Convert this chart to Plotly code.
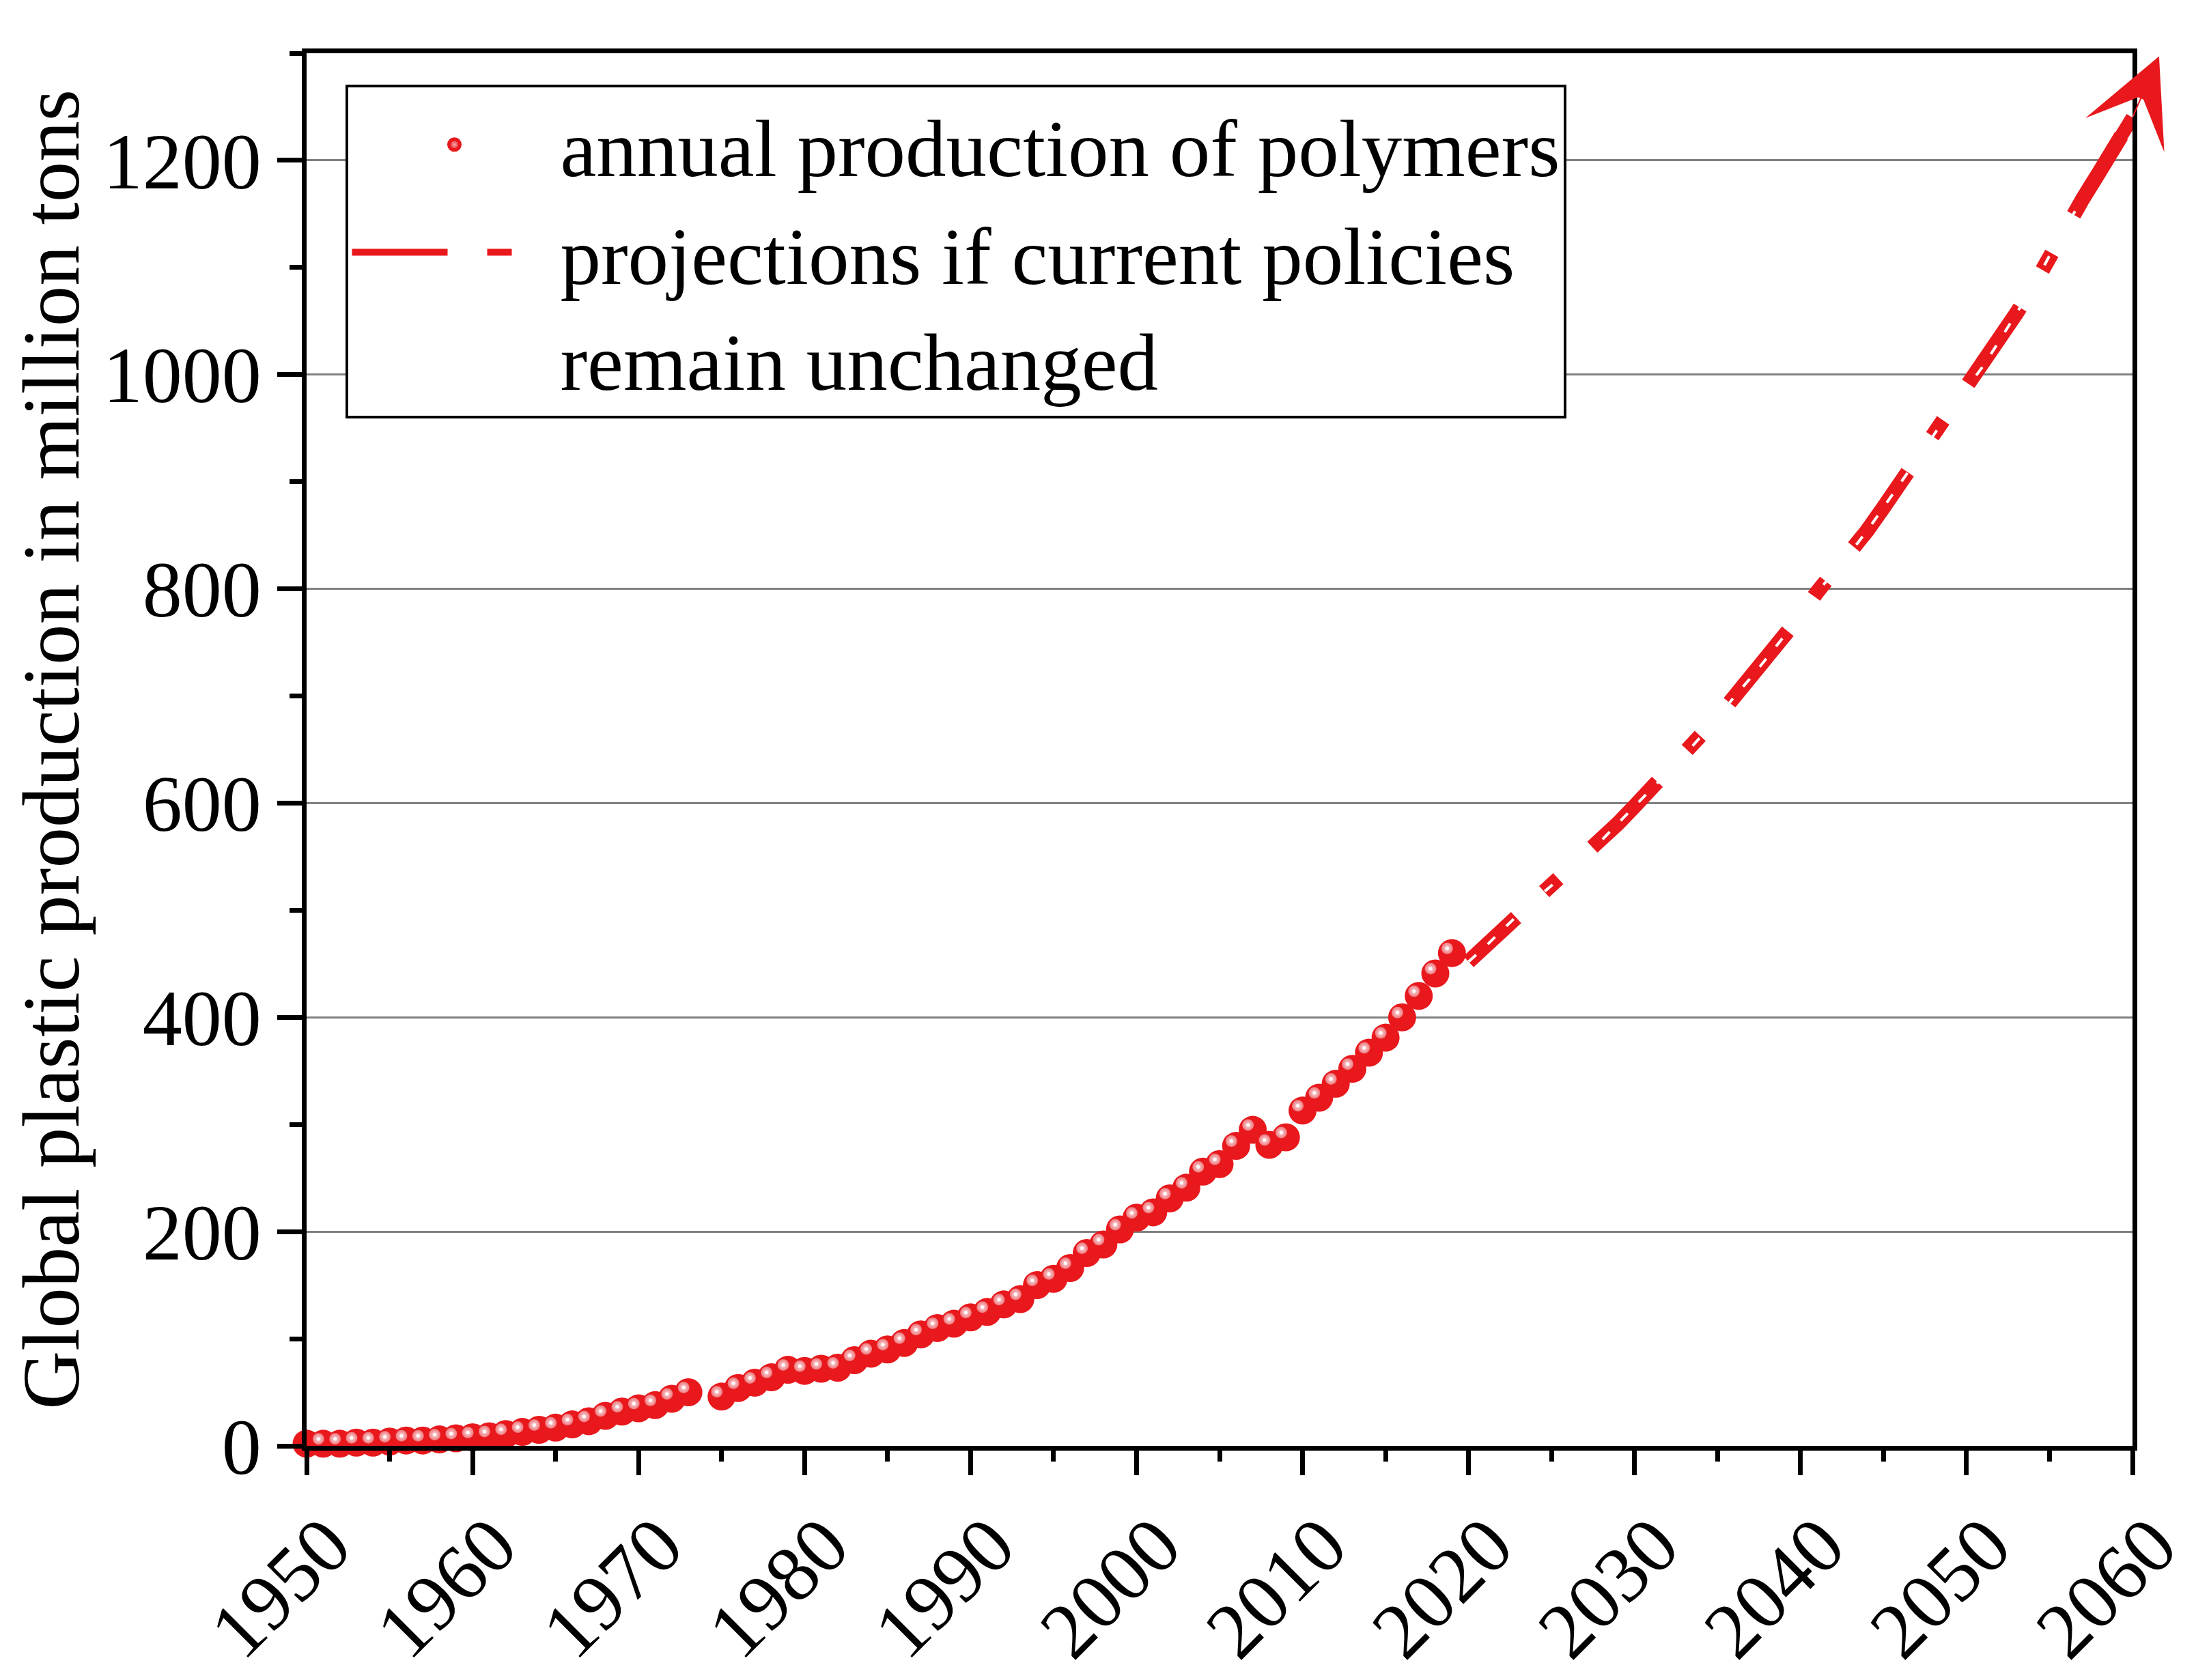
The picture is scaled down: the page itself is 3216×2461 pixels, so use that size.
import plotly.graph_objects as go

# annual production of polymers, million tons (no point for 1974)
years = list(range(1950, 1974)) + list(range(1975, 2020))
production = [2, 2, 2, 3, 3, 4, 5, 5, 6, 7,
              8, 9, 11, 13, 15, 17, 20, 23, 28, 32,
              35, 38, 44, 50,
              46, 54, 59, 64, 71,
              70, 72, 73, 80, 86, 90, 96, 104, 110, 114,
              120, 125, 132, 137, 150, 156, 166, 180, 188, 202,
              213, 218, 231, 241, 256, 263, 280, 295, 281, 288,
              313, 325, 338, 352, 367, 381, 400, 420, 441, 460]

# projection if current policies remain unchanged
proj_years = list(range(2020, 2061))
proj_values = [452, 466, 481, 496, 510, 523, 538, 551, 565, 581,
               597, 613, 629, 645, 662, 680, 699, 717, 736, 755,
               775, 797, 815, 834, 854, 876, 898, 920, 943, 966,
               987, 1008, 1032, 1057, 1082, 1111, 1139, 1164, 1189, 1214,
               1240]

RED = "rgb(232,24,28)"
FONT = "Liberation Serif"

# dash-dot pattern, first dash shorter so the phase matches the original
pattern = "95px,56px,28px,68px," + ",".join(["135px,64px,28px,65px"] * 6)

# pixel offset of the ball highlight (up-left of ball centre)
hx = 7 / (2697 / 110)
hy = 7 / (2040 / 1300)

fig = go.Figure()

# legend entries (plotly caps legend symbol sizes, so these carry the look)
fig.add_trace(go.Scatter(
    x=[None], y=[None], mode="markers",
    name="annual production of polymers",
    marker=dict(size=41, color=RED, line=dict(width=5, color=RED),
                gradient=dict(type="radial", color="rgb(246,170,174)")),
))
fig.add_trace(go.Scatter(
    x=[None], y=[None], mode="lines",
    name="projections if current policies<br>remain unchanged",
    line=dict(color=RED, width=24, dash="140px,58px,36px,300px"),
))

# data
fig.add_trace(go.Scatter(
    x=years, y=production, mode="markers", showlegend=False,
    marker=dict(size=41, color=RED, line=dict(width=0)),
    cliponaxis=False,
))
fig.add_trace(go.Scatter(
    x=proj_years, y=proj_values, mode="lines", showlegend=False,
    line=dict(color=RED, width=22, dash=pattern),
))
fig.add_trace(go.Scatter(
    x=proj_years, y=proj_values, mode="lines", showlegend=False,
    line=dict(color="white", width=4, dash="15px,23px"),
    hoverinfo="skip",
))
# solid arrow shaft over the last years
fig.add_trace(go.Scatter(
    x=proj_years[-4:], y=proj_values[-4:], mode="lines", showlegend=False,
    line=dict(color=RED, width=20), hoverinfo="skip",
))
# highlights on the balls
fig.add_trace(go.Scatter(
    x=years, y=production, mode="markers", showlegend=False,
    xaxis="x2", yaxis="y2", cliponaxis=False, hoverinfo="skip",
    marker=dict(size=17, color="rgb(237,118,123)", line=dict(width=0),
                gradient=dict(type="radial", color="rgb(253,225,227)")),
))
fig.add_trace(go.Scatter(
    x=years, y=production, mode="markers", showlegend=False,
    xaxis="x2", yaxis="y2", cliponaxis=False, hoverinfo="skip",
    marker=dict(size=5, color="white", line=dict(width=0)),
))

# arrow head just past the end of the projection (shaft kept hair-thin)
tip_x = proj_years[-1] + 1.6
tip_y = proj_values[-1] + 2.2 * (proj_values[-1] - proj_values[-2])
fig.add_annotation(
    x=tip_x, y=tip_y, ax=proj_years[-1], ay=proj_values[-1],
    xref="x", yref="y", axref="x", ayref="y",
    text="", showarrow=True, arrowhead=3, arrowsize=10.5,
    arrowwidth=2, arrowcolor=RED,
)

# y axis title
fig.add_annotation(
    text="Global plastic production in million tons",
    x=-0.140, y=0.5, xref="paper", yref="paper",
    xanchor="center", yanchor="middle", textangle=-90, showarrow=False,
    font=dict(family=FONT, size=119, color="black"),
)

tick_style = dict(ticks="outside", tickcolor="black", tickwidth=7,
                  showline=True, linecolor="black", linewidth=7,
                  mirror=True, zeroline=False,
                  tickfont=dict(family=FONT, size=116, color="black"))

fig.update_layout(
    width=3216, height=2461,
    margin=dict(l=441, r=78, t=70, b=351),
    paper_bgcolor="white", plot_bgcolor="white",
    font=dict(family=FONT, size=119, color="black"),
    showlegend=True,
    xaxis=dict(range=[1950, 2060], tick0=1950, dtick=10, ticklen=36,
               tickangle=-45, showgrid=False,
               ticklabelshift=30, ticklabelstandoff=-12,
               ticklabeloverflow="allow",
               minor=dict(dtick=5, ticks="outside", ticklen=16,
                          tickwidth=7, tickcolor="black", showgrid=False),
               **tick_style),
    yaxis=dict(range=[0, 1300], tick0=0, dtick=200, ticklen=36,
               showgrid=True, gridcolor="rgb(128,128,128)", gridwidth=3,
               minor=dict(dtick=100, ticks="outside", ticklen=18,
                          tickwidth=7, tickcolor="black", showgrid=False),
               **tick_style),
    xaxis2=dict(overlaying="x", range=[1950 + hx, 2060 + hx], visible=False),
    yaxis2=dict(overlaying="y", range=[-hy, 1300 - hy], visible=False),
    legend=dict(x=0.0215, y=0.9775, xanchor="left", yanchor="top",
                bgcolor="white", bordercolor="black", borderwidth=4,
                font=dict(family=FONT, size=119, color="black"),
                itemwidth=300, valign="top", tracegroupgap=0),
)

fig.write_html("out.html")
